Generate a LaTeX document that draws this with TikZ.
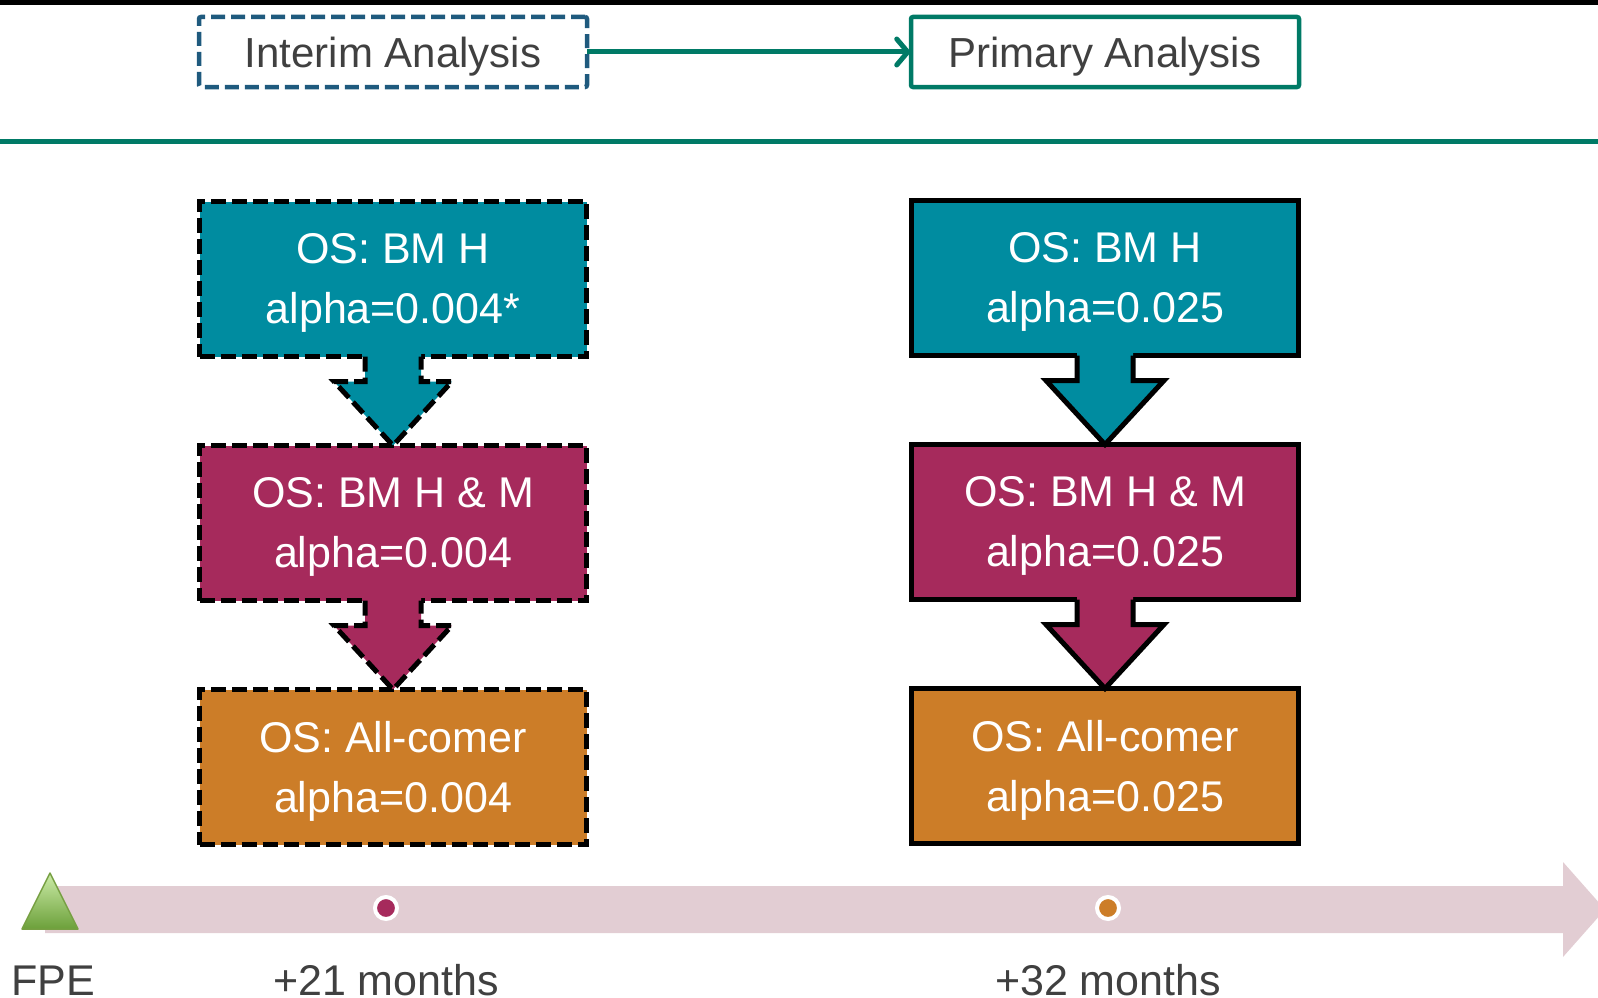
\documentclass[tikz,border=0pt]{standalone}
\usepackage{fontspec}
\setmainfont{Liberation Sans}
\usetikzlibrary{arrows.meta,calc}
\definecolor{tealbox}{RGB}{0,140,160}
\definecolor{magbox}{RGB}{166,42,92}
\definecolor{orgbox}{RGB}{204,125,40}
\definecolor{greenln}{RGB}{0,122,102}
\definecolor{bluedash}{RGB}{31,90,126}
\definecolor{graytxt}{RGB}{64,64,64}
\definecolor{barpink}{RGB}{226,205,211}
\definecolor{trilight}{RGB}{204,236,168}
\definecolor{tridark}{RGB}{108,160,58}
\definecolor{triedge}{RGB}{119,160,67}
\tikzset{
  stage/.style={draw=black, minimum width=387pt, minimum height=155pt, line width=5pt,
    inner sep=0pt, outer sep=0pt},
  stagetext/.style={text=white, align=center, font=\fontsize{43}{60}\selectfont, inner sep=0pt, yshift=-4pt},
  interimstage/.style={stage, dash pattern=on 15pt off 6pt},
  headbox/.style={minimum width=388pt, minimum height=70pt, line width=4.5pt,
    inner sep=0pt, outer sep=0pt, rounded corners=2pt},
  headtext/.style={text=graytxt, font=\fontsize{42}{50}\selectfont, inner sep=0pt, yshift=-5pt},
  arrowline/.style={line width=5pt, line join=miter, draw=black},
  tllabel/.style={text=graytxt, font=\fontsize{43}{50}\selectfont, inner sep=0pt},
  dotmark/.style={circle, draw=white, line width=4pt, minimum size=22pt, inner sep=0pt}
}
\newcommand{\blockarrow}[4]{%
  \fill[#3] ($(#1.south)+(-28,-8)$) -- ($(#1.south)+(-28,25)$) -- ($(#1.south)+(-59,25)$)
    -- (#2.north) -- ($(#1.south)+(59,25)$) -- ($(#1.south)+(28,25)$) -- ($(#1.south)+(28,-8)$) -- cycle;
  \draw[arrowline,#4] ($(#1.south)+(-28,0)$) -- ($(#1.south)+(-28,25)$) -- ($(#1.south)+(-59,25)$)
    -- (#2.north) -- ($(#1.south)+(59,25)$) -- ($(#1.south)+(28,25)$) -- ($(#1.south)+(28,0)$);
}
\begin{document}
\begin{tikzpicture}[x=1pt,y=-1pt]
\useasboundingbox (0,0) rectangle (1598,998);
% top bar and separator
\fill[black] (0,0) rectangle (1598,5);
\draw[greenln, line width=5pt] (0,141) -- (1598,141);
% header boxes
\node[headbox, draw=bluedash, dash pattern=on 14pt off 6pt,
  label={[headtext]center:Interim Analysis}] (interim) at (393,52) {};
\node[headbox, draw=greenln, label={[headtext]center:Primary Analysis}] (primary) at (1105,52) {};
\draw[greenln, line width=5pt, -{Straight Barb[length=11pt,width=26pt,line cap=round]}] (interim.east) -- (primary.west);
% left column
\node[interimstage, fill=tealbox, label={[stagetext]center:{OS: BM H\\alpha=0.004*}}] (l1) at (393,279) {};
\node[interimstage, fill=magbox, label={[stagetext]center:{OS: BM H \& M\\alpha=0.004}}] (l2) at (393,523) {};
\node[interimstage, fill=orgbox, label={[stagetext]center:{OS: All-comer\\alpha=0.004}}] (l3) at (393,767) {};
\blockarrow{l1}{l2}{tealbox}{dash pattern=on 15pt off 6pt}
\blockarrow{l2}{l3}{magbox}{dash pattern=on 15pt off 6pt}
% right column
\node[stage, fill=tealbox, label={[stagetext]center:{OS: BM H\\alpha=0.025}}] (r1) at (1105,278) {};
\node[stage, fill=magbox, label={[stagetext]center:{OS: BM H \& M\\alpha=0.025}}] (r2) at (1105,522) {};
\node[stage, fill=orgbox, label={[stagetext]center:{OS: All-comer\\alpha=0.025}}] (r3) at (1105,766) {};
\blockarrow{r1}{r2}{tealbox}{}
\blockarrow{r2}{r3}{magbox}{}
% timeline
\fill[barpink] (45,886) -- (1563,886) -- (1563,862) -- (1605,909.5) -- (1563,957) -- (1563,933) -- (45,933) -- cycle;
\shade[top color=trilight, bottom color=tridark, draw=triedge, line width=1.5pt, line join=round]
  (22,929) -- (50,873) -- (78,929) -- cycle;
\node[dotmark, fill=magbox] (d1) at (386,908) {};
\node[dotmark, fill=orgbox] (d2) at (1108,908) {};
\node[tllabel, anchor=base west] (fpe) at (11,995) {FPE};
\node[tllabel, anchor=base] (m21) at (386,995) {+21 months};
\node[tllabel, anchor=base] (m32) at (1108,995) {+32 months};
\end{tikzpicture}
\end{document}
